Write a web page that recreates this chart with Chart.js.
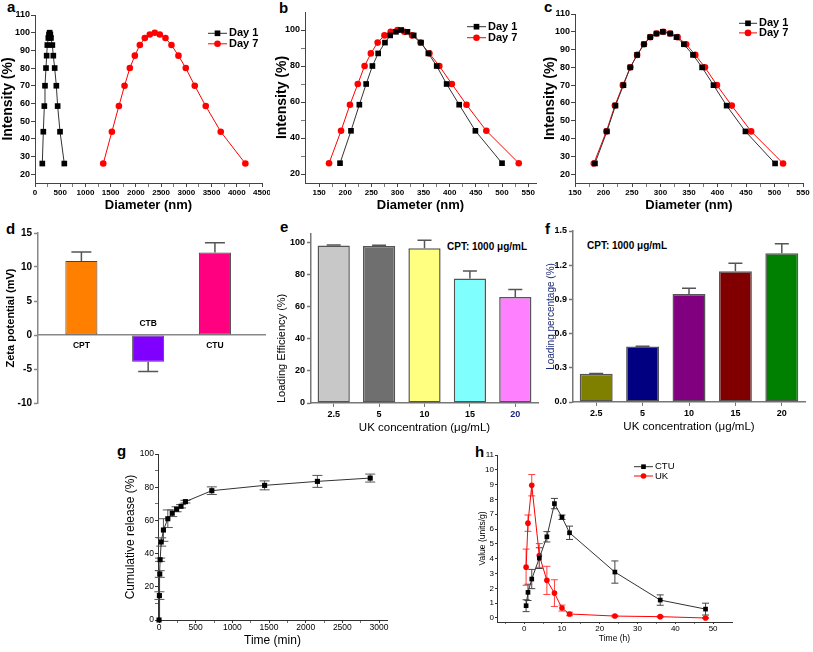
<!DOCTYPE html>
<html>
<head>
<meta charset="utf-8">
<title>Nanoparticle characterisation</title>
<script src="https://cdn.jsdelivr.net/npm/chart.js@4.4.1/dist/chart.umd.min.js"></script>
<style>
  html, body { margin: 0; padding: 0; background: #fff; }
  #fig { position: relative; width: 813px; height: 652px; overflow: hidden;
         font-family: "Liberation Sans", Arial, sans-serif; color: #000; }
  #fig canvas { position: absolute; }
  .tag { position: absolute; font-size: 15px; line-height: 15px; font-weight: bold; }
  .note { position: absolute; font-size: 10px; line-height: 10px; font-weight: bold; white-space: nowrap; }
</style>
</head>
<body>
<div id="fig">
  <div class="tag" style="left:7px;top:-1px">a</div>
  <div class="tag" style="left:279px;top:0px">b</div>
  <div class="tag" style="left:544px;top:-1px">c</div>
  <div class="tag" style="left:6px;top:221px">d</div>
  <div class="tag" style="left:280px;top:219px">e</div>
  <div class="tag" style="left:545px;top:221px">f</div>
  <div class="tag" style="left:117px;top:443px">g</div>
  <div class="tag" style="left:475px;top:444px">h</div>
  <div class="note" style="left:447px;top:242px">CPT: 1000 μg/mL</div>
  <div class="note" style="left:587px;top:241px">CPT: 1000 μg/mL</div>
</div>
<script>
const FONT = '"Liberation Sans", Arial, sans-serif';

// a-c: size distributions, same intensity bins for every curve
const intensity = [26, 44, 58.5, 70, 80, 87, 93, 97, 99, 100, 99, 97, 93, 87, 80, 70, 58.5, 44, 26];
const sizeA1 = [145, 165, 185, 198, 218, 231, 244, 264, 277, 291, 304, 317, 344, 363, 390, 423, 449, 496, 581];
const sizeA7 = [1353, 1524, 1663, 1775, 1880, 1979, 2078, 2177, 2276, 2375, 2474, 2586, 2705, 2844, 2989, 3167, 3385, 3682, 4170];
const sizeB1 = [190, 211, 227, 240, 252, 263, 276, 286, 297, 307, 319, 331, 345, 359, 375, 394, 418, 449, 500];
const sizeB7 = [169, 192, 209, 224, 237, 249, 262, 275, 287, 300, 313, 328, 344, 361, 380, 404, 432, 470, 532];
const sizeC1 = [185, 206, 221, 235, 247, 259, 271, 282, 293, 304, 317, 328, 341, 357, 373, 393, 416, 449, 501];
const sizeC7 = [183, 205, 220, 234, 247, 259, 271, 282, 293, 305, 317, 330, 345, 361, 378, 399, 425, 459, 515];

// d: zeta potential
const zetaLabels = ['CPT', 'CTB', 'CTU'];
const zetaMean = [10.9, -3.95, 12.15];
const zetaErr = [1.3, 1.4, 1.4];
const zetaColors = ['#ff8000', '#8000ff', '#ff0080'];

// e, f: loading vs UK concentration
const ukConc = ['2.5', '5', '10', '15', '20'];
const loadEff = [97.9, 97.6, 96.1, 77.3, 65.9];
const loadEffErr = [0.3, 0.4, 5.0, 4.7, 4.6];
const loadEffColors = ['#c8c8c8', '#6f6f6f', '#ffff80', '#80ffff', '#ff80ff'];
const loadPct = [0.248, 0.487, 0.948, 1.147, 1.304];
const loadPctErr = [0.003, 0.003, 0.05, 0.07, 0.085];
const loadPctColors = ['#808000', '#000080', '#800080', '#800000', '#008000'];

// g: cumulative release
const releaseTime = [0, 5, 10, 15, 30, 60, 120, 180, 240, 300, 360, 720, 1440, 2160, 2880];
const releasePct = [0, 14.7, 27.7, 36.3, 47, 54.2, 61, 64.3, 66.7, 68.5, 71.3, 77.9, 81.1, 83.5, 85.5];
const releaseErr = [0, 2.3, 2, 1, 2.5, 6.8, 5.3, 2, 1.5, 1, 0.8, 2.3, 2.7, 3.6, 2.4];

// h: activity over time
const hours = [0.5, 1, 2, 4, 6, 8, 10, 12, 24, 36, 48];
const ctuValue = [0.83, 1.73, 2.63, 4.04, 5.48, 7.72, 6.8, 5.75, 3.1, 1.21, 0.6];
const ctuErr = [0.4, 0.55, 0.65, 0.7, 0.35, 0.35, 0.15, 0.45, 0.75, 0.35, 0.4];
const ukValue = [3.43, 6.4, 8.96, 4.22, 2.54, 1.68, 0.67, 0.27, 0.13, 0.09, 0.0];
const ukErr = [1.22, 0.55, 0.72, 0.8, 0.95, 0.9, 0.2, 0.12, 0.05, 0.05, 0.03];

function range(a, b, step) {
  const out = [];
  for (let v = a; v <= b + 1e-9; v += step) out.push(+v.toFixed(6));
  return out;
}

function dot(ctx, style, r, x, y) {
  ctx.beginPath();
  if (style === 'rect') {
    const s = r * Math.SQRT1_2;
    ctx.rect(x - s, y - s, 2 * s, 2 * s);
  } else {
    ctx.arc(x, y, r, 0, Math.PI * 2);
  }
  ctx.fill();
}

function drawErrors(chart, behind) {
  const ctx = chart.ctx;
  chart.data.datasets.forEach((ds, i) => {
    if (!ds.errors || Boolean(ds.errorsBehind) !== behind) return;
    const meta = chart.getDatasetMeta(i);
    const yScale = chart.scales[meta.yAxisID];
    ctx.save();
    ctx.strokeStyle = ds.errorColor || '#555';
    ctx.lineWidth = ds.errorWidth || 1;
    meta.data.forEach((pt, j) => {
      const e = ds.errors[j];
      if (!e) return;
      const v = meta.controller.getParsed(j).y;
      const dir = v < 0 ? -1 : 1;
      const top = yScale.getPixelForValue(v + dir * e);
      const bot = yScale.getPixelForValue(ds.oneSided ? v : v - dir * e);
      const w = ds.capHalf || 4;
      ctx.beginPath();
      ctx.moveTo(pt.x, bot); ctx.lineTo(pt.x, top);
      ctx.moveTo(pt.x - w, top); ctx.lineTo(pt.x + w, top);
      if (!ds.oneSided) { ctx.moveTo(pt.x - w, bot); ctx.lineTo(pt.x + w, bot); }
      ctx.stroke();
    });
    ctx.restore();
  });
}

const errorBars = {
  id: 'errorBars',
  beforeDatasetsDraw(chart) { drawErrors(chart, true); },
  afterDatasetsDraw(chart) { drawErrors(chart, false); },
};

// legend drawn inside the plot: line + marker + label
const lineLegend = {
  id: 'lineLegend',
  afterDraw(chart, args, o) {
    if (o.x === undefined) return;
    const ctx = chart.ctx;
    ctx.save();
    chart.data.datasets.forEach((ds, i) => {
      const y = o.y + i * o.dy;
      ctx.strokeStyle = ds.borderColor;
      ctx.lineWidth = ds.borderWidth;
      ctx.beginPath(); ctx.moveTo(o.x, y); ctx.lineTo(o.x + o.len, y); ctx.stroke();
      ctx.fillStyle = ds.backgroundColor;
      dot(ctx, ds.pointStyle, ds.pointRadius, o.x + o.len / 2, y);
      ctx.fillStyle = '#000';
      ctx.font = o.txt;
      ctx.textAlign = 'left';
      ctx.textBaseline = 'middle';
      ctx.fillText(ds.label, o.x + o.len + o.gap, y);
    });
    ctx.restore();
  },
};

// category names written next to the zero line (panel d)
const barTags = {
  id: 'barTags',
  afterDatasetsDraw(chart, args, o) {
    if (!o.labels) return;
    const ctx = chart.ctx;
    const meta = chart.getDatasetMeta(0);
    const zero = chart.scales.y.getPixelForValue(0);
    ctx.save();
    ctx.font = o.txt;
    ctx.fillStyle = '#000';
    ctx.textAlign = 'center';
    ctx.textBaseline = 'middle';
    meta.data.forEach((el, j) => {
      const v = meta.controller.getParsed(j).y;
      ctx.fillText(o.labels[j], el.x, zero + (v >= 0 ? o.gap : -o.gap));
    });
    ctx.restore();
  },
};

Chart.register(errorBars, lineLegend, barTags);
Chart.defaults.font.family = FONT;
Chart.defaults.color = '#000';
Chart.defaults.animation = false;
Chart.defaults.responsive = false;
Chart.defaults.plugins.legend.display = false;
Chart.defaults.plugins.tooltip.enabled = false;

const fig = document.getElementById('fig');
const font = (size, bold) => ({ family: FONT, size, weight: bold ? 'bold' : 'normal' });

function panel(box, area, config) {
  const c = document.createElement('canvas');
  c.width = box.w; c.height = box.h;
  c.style.left = box.x + 'px';
  c.style.top = box.y + 'px';
  fig.appendChild(c);
  config.options.devicePixelRatio = 1;
  config.options.layout = {
    padding: { top: area.t - box.y, right: box.x + box.w - area.r, left: 0, bottom: area.pb || 0 },
  };
  return new Chart(c, config);
}

function axis(o) {
  const all = o.major.map(v => ({ value: v, minor: false }))
    .concat((o.minor || []).map(v => ({ value: v, minor: true })))
    .sort((p, q) => p.value - q.value);
  return {
    type: 'linear',
    min: o.min, max: o.max,
    afterBuildTicks: s => { s.ticks = all.map(t => ({ ...t })); },
    afterFit: s => {
      if (o.horiz) s.height = o.size; else s.width = o.size;
      s.paddingLeft = s.paddingRight = s.paddingTop = s.paddingBottom = 0;
    },
    border: { display: true, color: o.line, width: o.lw || 1 },
    grid: {
      drawOnChartArea: false, drawTicks: true, tickLength: o.tickLen || 4, tickColor: o.line,
      tickWidth: c => (c.tick && c.tick.minor ? 0.7 : (o.lw || 1)),
    },
    ticks: {
      autoSkip: false, maxRotation: 0, padding: o.pad === undefined ? 1 : o.pad,
      font: o.font, color: '#000',
      callback: (v, i, ts) => (ts[i] && ts[i].minor ? '' : (o.fmt ? o.fmt(v) : String(v))),
    },
    title: {
      display: true, text: o.title, font: o.titleFont, color: o.titleColor || '#000',
      padding: 0, align: o.align || 'center',
    },
  };
}

function catAxis(o) {
  return {
    type: 'category', offset: true,
    afterFit: s => { s.height = o.size; s.paddingLeft = s.paddingRight = 0; },
    border: { display: true, color: o.line, width: 1.5 },
    grid: { offset: false, drawOnChartArea: false, drawTicks: true, tickLength: 4, tickColor: o.line },
    ticks: { autoSkip: false, maxRotation: 0, padding: 2, font: o.font, color: o.tickColor || '#000' },
    title: { display: true, text: o.title, font: o.titleFont, color: '#000', padding: 0 },
  };
}

function series(label, xs, ys, o) {
  return {
    label,
    data: xs.map((x, i) => ({ x, y: ys[i] })),
    showLine: true, tension: 0, clip: false,
    borderColor: o.line, borderWidth: 1,
    backgroundColor: o.fill, pointBackgroundColor: o.fill, pointBorderWidth: 0,
    pointStyle: o.style, pointRadius: o.r, pointHoverRadius: o.r,
    errors: o.err, errorColor: o.errColor, capHalf: o.cap, errorsBehind: true,
  };
}

const day1 = { line: '#333', fill: '#000', style: 'rect', r: 4 };
const day7 = { line: '#ff0000', fill: '#ff0000', style: 'circle', r: 3.3 };

// ---- a, b, c
function sizePanel(box, area, s1, s7, xo, yo, legend) {
  return panel(box, area, {
    type: 'scatter',
    data: { datasets: [series('Day 1', s1, intensity, day1), series('Day 7', s7, intensity, day7)] },
    options: {
      scales: {
        x: axis(Object.assign({ horiz: true, size: box.y + box.h - area.b, font: font(8, true),
          title: 'Diameter (nm)', titleFont: font(13, true), line: '#444' }, xo)),
        y: axis(Object.assign({ size: area.l - box.x, font: font(9, true),
          title: 'Intensity (%)', titleFont: font(14, true), line: '#444' }, yo)),
      },
      plugins: { lineLegend: Object.assign({ len: 19, gap: 2, txt: 'bold 11px ' + FONT }, legend) },
    },
  });
}

const boxA = { x: 0, y: 0, w: 270, h: 213 };
sizePanel(boxA, { l: 35, r: 262, t: 15, b: 183 }, sizeA1, sizeA7,
  { min: 0, max: 4500, major: range(0, 4500, 500), minor: range(250, 4250, 500) },
  { min: 15, max: 110, major: range(20, 110, 10) },
  { x: 208 - boxA.x, y: 33.3 - boxA.y, dy: 10.5 });

const boxB = { x: 274, y: 0, w: 271, h: 213 };
sizePanel(boxB, { l: 305, r: 536, t: 12, b: 183 }, sizeB1, sizeB7,
  { min: 123, max: 565, major: range(150, 550, 50), minor: range(175, 525, 50) },
  { min: 15, max: 110, major: range(20, 100, 20), minor: range(30, 90, 20) },
  { x: 467 - boxB.x, y: 26.7 - boxB.y, dy: 11 });

const boxC = { x: 542, y: 0, w: 271, h: 213 };
sizePanel(boxC, { l: 575, r: 803, t: 14, b: 183 }, sizeC1, sizeC7,
  { min: 150, max: 550, major: range(150, 550, 50), minor: range(175, 525, 50) },
  { min: 15, max: 110, major: range(20, 110, 10) },
  { x: 739 - boxC.x, y: 23.3 - boxC.y, dy: 9.6, len: 18 });

// ---- d
const boxD = { x: 4, y: 215, w: 270, h: 195 };
const areaD = { l: 38, r: 265, t: 233, b: 403, pb: 7 };
panel(boxD, areaD, {
  type: 'bar',
  data: {
    datasets: [{
      data: zetaMean.map((v, i) => ({ x: i, y: v })),
      backgroundColor: zetaColors, borderColor: '#444', borderWidth: 1, borderSkipped: false,
      categoryPercentage: 1, barPercentage: 0.64,
      errors: zetaErr, oneSided: true, errorColor: '#555', errorWidth: 1.5, capHalf: 10,
    }],
  },
  options: {
    scales: {
      x: {
        type: 'linear', min: -0.65, max: 2.75, offset: false, position: { y: 0 },
        ticks: { display: false }, grid: { display: false },
        border: { display: true, color: '#888', width: 1.5 },
      },
      y: axis({ min: -10, max: 15, major: range(-10, 15, 5), size: areaD.l - boxD.x, font: font(10, true),
        pad: 2, title: 'Zeta potential (mV)', titleFont: font(11, true), line: '#888', lw: 1.5 }),
    },
    plugins: { barTags: { labels: zetaLabels, gap: 11, txt: 'bold 8.5px ' + FONT } },
  },
});

// ---- e, f
function loadPanel(box, area, values, errs, colors, xo, yo) {
  return panel(box, area, {
    type: 'bar',
    data: {
      labels: ukConc,
      datasets: [{
        data: values, backgroundColor: colors, borderColor: '#555', borderWidth: 1.5, borderSkipped: false,
        categoryPercentage: 1, barPercentage: 0.71,
        errors: errs, oneSided: true, errorColor: '#555', errorWidth: 1.5, capHalf: 7,
      }],
    },
    options: {
      scales: {
        x: catAxis(Object.assign({ size: box.y + box.h - area.b, font: font(9, true),
          title: 'UK concentration (μg/mL)', titleFont: font(11.5, false), line: '#777' }, xo)),
        y: axis(Object.assign({ size: area.l - box.x, font: font(9, true), pad: 2, line: '#777', lw: 1.5 }, yo)),
      },
    },
  });
}

const boxE = { x: 275, y: 225, w: 270, h: 210 };
loadPanel(boxE, { l: 311, r: 538, t: 234, b: 403 }, loadEff, loadEffErr, loadEffColors,
  { tickColor: c => (c.index === 4 ? '#1a237e' : '#000') },
  { min: 0, max: 105, major: range(0, 100, 20), title: 'Loading Efficiency (%)',
    titleFont: font(11, false), align: 'start' });

const boxF = { x: 545, y: 225, w: 268, h: 209 };
loadPanel(boxF, { l: 573, r: 805, t: 231, b: 402 }, loadPct, loadPctErr, loadPctColors,
  {},
  { min: 0, max: 1.5, major: range(0, 1.5, 0.3), fmt: v => v.toFixed(1), title: 'Loading percentage (%)',
    titleFont: font(10, false), titleColor: '#1c2a78' });

// ---- g
const boxG = { x: 123, y: 440, w: 272, h: 208 };
const areaG = { l: 158, r: 387, t: 454, b: 620 };
panel(boxG, areaG, {
  type: 'scatter',
  data: {
    datasets: [series('Release', releaseTime, releasePct,
      { line: '#333', fill: '#000', style: 'rect', r: 3.6, err: releaseErr, errColor: '#555', cap: 5 })],
  },
  options: {
    scales: {
      x: axis({ horiz: true, min: -14, max: 3109, major: range(0, 3000, 500), minor: range(250, 2750, 500),
        size: boxG.y + boxG.h - areaG.b, font: font(8.5, false), tickLen: 3, pad: 0,
        title: 'Time (min)', titleFont: font(12, false), line: '#333' }),
      y: axis({ min: 0, max: 100, major: range(0, 100, 20), minor: range(10, 90, 20),
        size: areaG.l - boxG.x, font: font(8.5, false), tickLen: 3, pad: 1,
        title: 'Cumulative release (%)', titleFont: font(12, false), line: '#333' }),
    },
  },
});

// ---- h
const boxH = { x: 478, y: 440, w: 262, h: 204 };
const areaH = { l: 497, r: 732, t: 455, b: 622 };
panel(boxH, areaH, {
  type: 'scatter',
  data: {
    datasets: [
      series('CTU', hours, ctuValue, { line: '#333', fill: '#000', style: 'rect', r: 3.3, err: ctuErr, errColor: '#444', cap: 3.5 }),
      series('UK', hours, ukValue, { line: '#ff0000', fill: '#ff0000', style: 'circle', r: 2.8, err: ukErr, errColor: '#ff4040', cap: 3.5 }),
    ],
  },
  options: {
    scales: {
      x: axis({ horiz: true, min: -7.2, max: 55, major: range(0, 50, 10), minor: range(-5, 45, 10),
        size: boxH.y + boxH.h - areaH.b, font: font(8, false), tickLen: 2, pad: 0,
        title: 'Time (h)', titleFont: font(8.5, false), line: '#333' }),
      y: axis({ min: -0.27, max: 11, major: range(0, 11, 1),
        size: areaH.l - boxH.x, font: font(8, false), tickLen: 2, pad: 1,
        title: 'Value (units/g)', titleFont: font(8.5, false), line: '#333' }),
    },
    plugins: { lineLegend: { x: 634 - boxH.x, y: 466.7 - boxH.y, dy: 9.3, len: 19, gap: 2, txt: '9.5px ' + FONT } },
  },
});
</script>
</body>
</html>
